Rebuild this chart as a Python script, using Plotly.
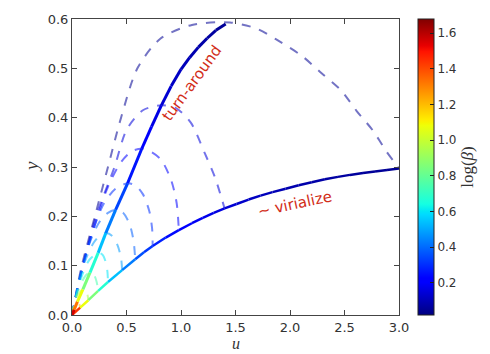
import plotly.graph_objects as go

# ---- solid curves: turn-around and virialization loci, with log(beta) per point ----
ta_u = [0, 0.02, 0.05, 0.10, 0.165, 0.24, 0.31, 0.40, 0.51, 0.64, 0.73, 0.82, 0.91, 1.00,
        1.08, 1.16, 1.24, 1.32, 1.41]
ta_y = [0, 0.011, 0.027, 0.052, 0.086, 0.126, 0.166, 0.213, 0.267, 0.337, 0.382, 0.425, 0.464, 0.498,
        0.522, 0.543, 0.561, 0.577, 0.590]
ta_b = [1.68, 1.45, 1.2, 0.95, 0.75, 0.6, 0.48, 0.38, 0.30, 0.22, 0.18, 0.15, 0.13, 0.11,
        0.095, 0.085, 0.075, 0.06, 0.05]

vi_u = [0, 0.075, 0.15, 0.24, 0.33, 0.46, 0.58, 0.66, 0.74, 0.86, 0.98, 1.10, 1.20, 1.30, 1.40,
        1.51, 1.62, 1.73, 1.84, 1.96, 2.08, 2.20, 2.32, 2.44, 2.55, 2.67, 2.78, 2.89, 3.0]
vi_y = [0, 0.015, 0.030, 0.049, 0.067, 0.091, 0.113, 0.127, 0.140, 0.157, 0.172, 0.186, 0.197, 0.207,
        0.216, 0.225, 0.234, 0.242, 0.249, 0.256, 0.263, 0.269, 0.275, 0.280, 0.284, 0.288, 0.291,
        0.294, 0.297]
vi_b = [1.68, 1.2, 0.95, 0.75, 0.6, 0.48, 0.38, 0.34, 0.30, 0.26, 0.22, 0.195, 0.18, 0.165, 0.15,
        0.135, 0.12, 0.11, 0.10, 0.092, 0.085, 0.08, 0.075, 0.07, 0.065, 0.06, 0.057, 0.053, 0.05]

# ---- individual trajectories (dashed), one per beta ----
traj_beta = [0.05, 0.15, 0.22, 0.30, 0.38, 0.48, 0.60, 0.75, 0.95, 1.20]

u_A = [0, 0.09, 0.21, 0.33, 0.45, 0.60, 0.81, 1.10, 1.45, 1.70, 1.87, 2.11, 2.29, 2.47, 2.61, 2.76, 2.88, 2.97, 3.0]
y_A = [0, 0.10, 0.20, 0.30, 0.40, 0.50, 0.56, 0.588, 0.593, 0.58, 0.559, 0.525, 0.49, 0.455, 0.414, 0.374, 0.333, 0.306, 0.297]
u_B = [0, 0.10, 0.22, 0.39, 0.50, 0.65, 0.82, 0.95, 1.09, 1.22, 1.31, 1.40]
y_B = [0, 0.10, 0.20, 0.30, 0.375, 0.415, 0.425, 0.42, 0.39, 0.327, 0.28, 0.216]
u_C = [0, 0.10, 0.22, 0.33, 0.45, 0.55, 0.64, 0.73, 0.82, 0.91, 0.96, 0.98]
y_C = [0, 0.10, 0.19, 0.26, 0.31, 0.332, 0.337, 0.33, 0.314, 0.273, 0.227, 0.172]
u_D = [0, 0.09, 0.19, 0.29, 0.40, 0.51, 0.58, 0.65, 0.71, 0.735, 0.74]
y_D = [0, 0.09, 0.17, 0.225, 0.256, 0.267, 0.263, 0.245, 0.21, 0.175, 0.140]
u_E = [0, 0.08, 0.16, 0.25, 0.33, 0.40, 0.47, 0.53, 0.565, 0.58]
y_E = [0, 0.085, 0.145, 0.188, 0.207, 0.213, 0.207, 0.183, 0.15, 0.113]
u_F = [0, 0.06, 0.13, 0.20, 0.26, 0.31, 0.37, 0.42, 0.45, 0.46]
y_F = [0, 0.065, 0.115, 0.147, 0.162, 0.166, 0.16, 0.14, 0.115, 0.091]
u_G = [0, 0.05, 0.10, 0.16, 0.24, 0.28, 0.31, 0.325, 0.33]
y_G = [0, 0.05, 0.085, 0.112, 0.126, 0.122, 0.107, 0.088, 0.067]
u_H = [0, 0.04, 0.09, 0.13, 0.165, 0.20, 0.225, 0.24]
y_H = [0, 0.038, 0.067, 0.081, 0.086, 0.082, 0.068, 0.049]
u_I = [0, 0.03, 0.06, 0.10, 0.125, 0.142, 0.15]
y_I = [0, 0.028, 0.043, 0.052, 0.049, 0.041, 0.03]
u_J = [0, 0.02, 0.05, 0.065, 0.075]
y_J = [0, 0.018, 0.027, 0.023, 0.015]

traj_u = [u_A, u_B, u_C, u_D, u_E, u_F, u_G, u_H, u_I, u_J]
traj_y = [y_A, y_B, y_C, y_D, y_E, y_F, y_G, y_H, y_I, y_J]

CMIN, CMAX = 0.02, 1.68

# matplotlib-style "jet" colormap (piecewise linear channels)
_R = [(0, 0), (0.35, 0), (0.66, 1), (0.89, 1), (1, 0.5)]
_G = [(0, 0), (0.125, 0), (0.375, 1), (0.64, 1), (0.91, 0), (1, 0)]
_B = [(0, 0.5), (0.11, 1), (0.34, 1), (0.65, 0), (1, 0)]


def _chan(pts, t):
    for (x0, v0), (x1, v1) in zip(pts[:-1], pts[1:]):
        if x0 <= t <= x1:
            return v0 + (v1 - v0) * (t - x0) / (x1 - x0)
    return pts[-1][1]


def jet(t):
    t = min(max(t, 0.0), 1.0)
    return tuple(int(round(255 * _chan(c, t))) for c in (_R, _G, _B))


def jet_rgba(val, a=1.0):
    r, g, b = jet((val - CMIN) / (CMAX - CMIN))
    return f"rgba({r},{g},{b},{a})"


stops = [0, 0.11, 0.125, 0.34, 0.35, 0.375, 0.64, 0.65, 0.66, 0.89, 0.91, 1]
jet_scale = [[s, "rgb(%d,%d,%d)" % jet(s)] for s in stops]

fig = go.Figure()

# dashed trajectories
for uu, yy, bb in zip(traj_u, traj_y, traj_beta):
    fig.add_trace(go.Scatter(
        x=uu, y=yy, mode="lines",
        line=dict(color=jet_rgba(bb, 0.55), width=2, dash="dash", shape="spline", smoothing=0.8),
        hoverinfo="skip", showlegend=False))


def colored_curve(us, ys, bs, width):
    for i in range(len(us) - 1):
        fig.add_trace(go.Scatter(
            x=[us[i], us[i + 1]], y=[ys[i], ys[i + 1]], mode="lines",
            line=dict(color=jet_rgba(0.5 * (bs[i] + bs[i + 1])), width=width),
            hoverinfo="skip", showlegend=False))


colored_curve(vi_u, vi_y, vi_b, 2.5)
colored_curve(ta_u, ta_y, ta_b, 3)

# colour bar carrier
fig.add_trace(go.Scatter(
    x=[0, 0], y=[0, 0], mode="markers",
    marker=dict(size=0.1, color=[CMIN, CMAX], cmin=CMIN, cmax=CMAX, colorscale=jet_scale,
                showscale=True,
                colorbar=dict(
                    x=1.059, xanchor="left", xpad=0, ypad=0,
                    y=0.5, yanchor="middle", len=1.0, lenmode="fraction",
                    thickness=16, thicknessmode="pixels",
                    outlinecolor="#222", outlinewidth=1,
                    tickvals=[0.2, 0.4, 0.6, 0.8, 1.0, 1.2, 1.4, 1.6],
                    ticktext=["0.2", "0.4", "0.6", "0.8", "1.0", "1.2", "1.4", "1.6"],
                    ticks="inside", ticklen=4, tickcolor="#222",
                    tickfont=dict(family="DejaVu Sans", size=12, color="#333"),
                    title=dict(text="log(<i>β</i>)", side="right",
                               font=dict(family="Liberation Serif", size=17, color="#333")))),
    hoverinfo="skip", showlegend=False))

axis_common = dict(
    showgrid=False, zeroline=False, showline=True, linecolor="#444", linewidth=1,
    mirror="ticks", ticks="inside", ticklen=5, tickcolor="#444",
    tickfont=dict(family="DejaVu Sans", size=13, color="#333"))

fig.update_xaxes(range=[0, 3.0], tickvals=[0, 0.5, 1.0, 1.5, 2.0, 2.5, 3.0],
                 ticktext=["0.0", "0.5", "1.0", "1.5", "2.0", "2.5", "3.0"], **axis_common)
fig.update_yaxes(range=[0, 0.6], tickvals=[0, 0.1, 0.2, 0.3, 0.4, 0.5, 0.6],
                 ticktext=["0.0", "0.1", "0.2", "0.3", "0.4", "0.5", "0.6"], **axis_common)

red = "rgb(210,45,25)"
fig.update_layout(
    width=490, height=354,
    margin=dict(l=72, r=78, t=17, b=39),
    paper_bgcolor="white", plot_bgcolor="white",
    annotations=[
        dict(x=1.10, y=0.471, text="turn-around", showarrow=False, textangle=-54,
             font=dict(family="DejaVu Sans", size=15, color=red)),
        dict(x=2.04, y=0.226, text="~ virialize", showarrow=False, textangle=-12,
             font=dict(family="DejaVu Sans", size=15, color=red)),
        dict(x=0.5, y=0, xref="paper", yref="paper", xanchor="center", yanchor="middle",
             yshift=-28, text="<i>u</i>", showarrow=False,
             font=dict(family="Liberation Serif", size=16, color="#333")),
        dict(x=0, y=0.5, xref="paper", yref="paper", xanchor="center", yanchor="middle",
             xshift=-41, text="<i>y</i>", textangle=-90, showarrow=False,
             font=dict(family="Liberation Serif", size=19, color="#333")),
    ],
)

fig.write_html("out.html")
